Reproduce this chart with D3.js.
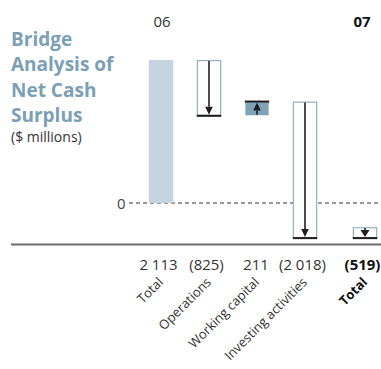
<!DOCTYPE html>
<html>
<head>
<meta charset="UTF-8">
<style>
  body { margin: 0; background: #fff; }
  svg { display: block; }
  text { font-family: "Open Sans", "Noto Sans", sans-serif; fill: #333; }
</style>
</head>
<body>
<svg></svg>
<script src="https://d3js.org/d3.v7.min.js"></script>
<script>
// data
let categories = ["Total", "Operations", "Working capital", "Investing activities", "Total"];
let values = [2113, -825, 211, -2018, -519];
let valueLabels = ["2 113", "(825)", "211", "(2 018)", "(519)"];
let kinds = ["total", "change", "change", "change", "total"];
let years = ["06", "07"];
let titleLines = ["Bridge", "Analysis of", "Net Cash", "Surplus"];

let width = 381, height = 369;
let svg = d3.select("svg").attr("width", width).attr("height", height);

// running start/end for the bridge
let run = 0;
let items = values.map((v, i) => {
  let start, end;
  if (kinds[i] == "total") { start = 0; end = v; run = v; }
  else { start = run; end = run + v; run = end; }
  return {i: i, name: categories[i], value: v, start: start, end: end, kind: kinds[i], label: valueLabels[i]};
});
let last = items.length - 1;

let groupGap = 12; // extra space before the 07 total

let x = d3.scaleBand()
  .domain(d3.range(categories.length))
  .range([137, 377])
  .paddingInner(0.49)
  .paddingOuter(0.245);
let bx = i => x(i) + (i == last ? groupGap : 0);
let bw = x.bandwidth();

let y = d3.scaleLinear().domain([0, 2113]).range([203, 60]);

// title
let title = svg.append("text").attr("x", 11).attr("y", 46)
  .style("font-size", "19px").style("font-weight", "bold").style("fill", "#7ba0b5");
titleLines.forEach((t, k) => {
  title.append("tspan").attr("x", 11).attr("dy", k == 0 ? 0 : 25.3).text(t);
});
svg.append("text").attr("x", 11).attr("y", 142).style("font-size", "14px").text("($ millions)");

// year labels
svg.append("text").attr("x", bx(0) + bw / 2 + 1).attr("y", 27).attr("text-anchor", "middle")
  .style("font-size", "15px").text(years[0]);
svg.append("text").attr("x", bx(last) + bw / 2 - 3).attr("y", 27).attr("text-anchor", "middle")
  .style("font-size", "15px").style("font-weight", "bold").style("fill", "#111").text(years[1]);

// zero line
svg.append("line").attr("x1", 129).attr("x2", width).attr("y1", y(0)).attr("y2", y(0))
  .attr("stroke", "#333").attr("stroke-width", 1).attr("stroke-dasharray", "4,3");
svg.append("text").attr("x", 125.5).attr("y", y(0) + 5.5).attr("text-anchor", "end")
  .style("font-size", "15px").style("fill", "#444").text("0");

// baseline
svg.append("line").attr("x1", 11).attr("x2", width).attr("y1", 244.5).attr("y2", 244.5)
  .attr("stroke", "#6b6b6b").attr("stroke-width", 2);

// bars
let g = svg.append("g");
items.forEach(d => {
  let x0 = bx(d.i);
  let top = Math.min(y(d.start), y(d.end)), bot = Math.max(y(d.start), y(d.end));
  if (d.i == 0) {
    g.append("rect").attr("x", x0).attr("y", top).attr("width", bw).attr("height", bot - top)
      .attr("fill", "#c6d4df");
    return;
  }
  let ys = y(d.start), ye = y(d.end);
  if (d.i == last) { ys = ye - 11; top = ys; } // closing total shown as a small marker
  let filled = d.value > 0;
  g.append("rect").attr("x", x0 + 0.6).attr("y", top + 0.6).attr("width", bw - 1.2).attr("height", bot - top - 1.2)
    .attr("fill", filled ? "#7fa2b6" : "#fff")
    .attr("stroke", filled ? "none" : "#8fb0c3").attr("stroke-width", 1.2);
  // end marker line
  g.append("line").attr("x1", x0).attr("x2", x0 + bw).attr("y1", ye).attr("y2", ye)
    .attr("stroke", "#1e1e1e").attr("stroke-width", 2);
  // arrow
  let cx = x0 + bw / 2;
  let dir = ye > ys ? 1 : -1;
  let tip = ye - dir * 1;
  let head = d.i == last ? 7 : 8;
  let hw = d.i == last ? 4.5 : 3.8;
  g.append("line").attr("x1", cx).attr("x2", cx).attr("y1", ys + dir * 1).attr("y2", tip - dir * head)
    .attr("stroke", "#1e1e1e").attr("stroke-width", 1.6);
  g.append("path")
    .attr("d", `M${cx - hw},${tip - dir * head}L${cx + hw},${tip - dir * head}L${cx},${tip}Z`)
    .attr("fill", "#1e1e1e");
});

// value labels
svg.append("g").selectAll("text").data(items).enter().append("text")
  .attr("x", d => bx(d.i) + bw / 2 - (d.label.length > 4 ? 2.5 : 1))
  .attr("y", 270).attr("text-anchor", "middle")
  .style("font-size", "15px")
  .style("font-weight", d => d.i == last ? "bold" : "normal")
  .style("fill", d => d.i == last ? "#111" : "#333")
  .text(d => d.name == "" ? "" : d.label);

// category labels, rotated
svg.append("g").selectAll("text").data(items).enter().append("text")
  .attr("transform", d => `translate(${bx(d.i) + bw / 2 + 3},${283}) rotate(-45)`)
  .attr("text-anchor", "end")
  .style("font-size", "13px")
  .style("font-weight", d => d.i == last ? "bold" : "normal")
  .style("fill", d => d.i == last ? "#111" : "#333")
  .text(d => d.name);
</script>
</body>
</html>
